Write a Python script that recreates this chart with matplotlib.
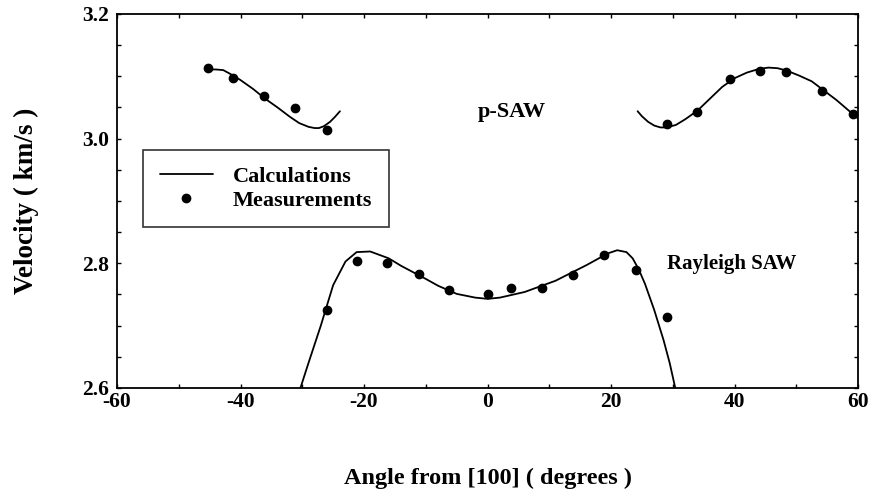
import matplotlib
matplotlib.use("Agg")
import matplotlib.pyplot as plt
from matplotlib.ticker import MultipleLocator

plt.rcParams['font.family'] = ['Liberation Serif', 'DejaVu Serif']
plt.rcParams['font.weight'] = 'bold'

# Calculated curves
calc_psaw_left_x = [-45.2, -44.0, -42.8, -41.5, -40.0, -38.0, -36.0, -34.0, -32.0, -30.5,
                    -29.0, -28.0, -27.3, -26.5, -25.5, -24.7, -23.9]
calc_psaw_left_y = [3.111, 3.111, 3.110, 3.103, 3.094, 3.080, 3.064, 3.050, 3.035, 3.025,
                    3.019, 3.017, 3.017, 3.020, 3.027, 3.035, 3.044]

calc_psaw_right_x = [24.3, 25.0, 26.0, 27.0, 28.0, 29.0, 30.5, 32.0, 34.0, 36.0, 38.0, 40.0,
                     42.0, 44.0, 45.5, 47.0, 48.5, 50.5, 52.5, 54.5, 56.5, 58.5, 60.3]
calc_psaw_right_y = [3.044, 3.036, 3.027, 3.021, 3.018, 3.018, 3.022, 3.031, 3.045, 3.064, 3.083, 3.097,
                     3.106, 3.112, 3.114, 3.113, 3.109, 3.101, 3.092, 3.077, 3.062, 3.045, 3.030]

calc_ray_x = [-30.3, -29.0, -27.0, -25.0, -23.0, -21.2, -19.0, -16.0, -14.0, -10.0, -8.0, -5.0,
              -2.0, 0.0, 2.0, 6.0, 11.0, 16.0, 19.5, 21.0, 22.5, 23.5, 24.5, 25.5, 27.0,
              28.5, 29.5, 30.4]
calc_ray_y = [2.600, 2.640, 2.700, 2.765, 2.803, 2.818, 2.819, 2.808, 2.796, 2.775, 2.764, 2.751,
              2.745, 2.743, 2.745, 2.754, 2.772, 2.797, 2.816, 2.821, 2.818, 2.808, 2.790, 2.767, 2.725,
              2.677, 2.640, 2.600]

# Measurements
meas_psaw_x = [-45.2, -41.2, -36.2, -31.1, -26.0, 29.0, 34.0, 39.2, 44.1, 48.3, 54.2, 59.2]
meas_psaw_y = [3.113, 3.097, 3.069, 3.049, 3.014, 3.023, 3.042, 3.096, 3.109, 3.107, 3.077, 3.039]

meas_ray_x = [-26.0, -21.1, -16.2, -11.1, -6.2, 0.0, 3.8, 8.9, 13.9, 18.9, 24.0, 29.0]
meas_ray_y = [2.725, 2.804, 2.801, 2.783, 2.757, 2.751, 2.761, 2.760, 2.782, 2.814, 2.790, 2.714]

x_ticks = [-60, -40, -20, 0, 20, 40, 60]
y_ticks = [2.6, 2.8, 3.0, 3.2]

fig = plt.figure(figsize=(8.72, 4.98), dpi=100)
ax = fig.add_axes([0.1342, 0.2209, 0.8498, 0.7510])

lw = 1.3
kw = dict(color='black', lw=lw, solid_joinstyle='round', solid_capstyle='round')
ax.plot(calc_psaw_left_x, calc_psaw_left_y, label='Calculations', **kw)
ax.plot(calc_psaw_right_x, calc_psaw_right_y, **kw)
ax.plot(calc_ray_x, calc_ray_y, **kw)
ax.plot(meas_psaw_x, meas_psaw_y, 'o', color='black', ms=6, label='Measurements')
ax.plot(meas_ray_x, meas_ray_y, 'o', color='black', ms=6)

ax.set_xlim(-60, 60)
ax.set_ylim(2.6, 3.2)
ax.set_xticks(x_ticks)
ax.set_yticks(y_ticks)
ax.set_xticklabels([str(v) for v in x_ticks])
ax.set_yticklabels([f"{v:.1f}" for v in y_ticks])
ax.xaxis.set_minor_locator(MultipleLocator(10))
ax.yaxis.set_minor_locator(MultipleLocator(0.05))
ax.tick_params(which='both', direction='in', top=True, right=True, length=3, width=1)
ax.tick_params(axis='x', which='major', pad=3, labelsize=15.5)
ax.tick_params(axis='y', which='major', pad=6, labelsize=15.5)
for s in ax.spines.values():
    s.set_linewidth(1.3)

ax.set_xlabel('Angle from [100] ( degrees )', fontsize=17.5, fontweight='bold', labelpad=40)
ax.set_ylabel('Velocity ( km/s )', fontsize=19.5, fontweight='bold', labelpad=31)

ax.text(4.0, 3.043, 'p-SAW', fontsize=16, fontweight='bold', ha='center', va='center')
ax.text(39.6, 2.799, 'Rayleigh SAW', fontsize=15, fontweight='bold', ha='center', va='center')

leg = ax.legend(loc='center', bbox_to_anchor=(0.034, 0.428, 0.334, 0.211),
                fontsize=16, frameon=True, fancybox=False, edgecolor='black',
                handlelength=2.4, handletextpad=0.9, labelspacing=0.15,
                borderpad=0.75, borderaxespad=0.0, numpoints=1)
leg.get_frame().set_linewidth(1.2)

fig.savefig('out.png', dpi=100)
